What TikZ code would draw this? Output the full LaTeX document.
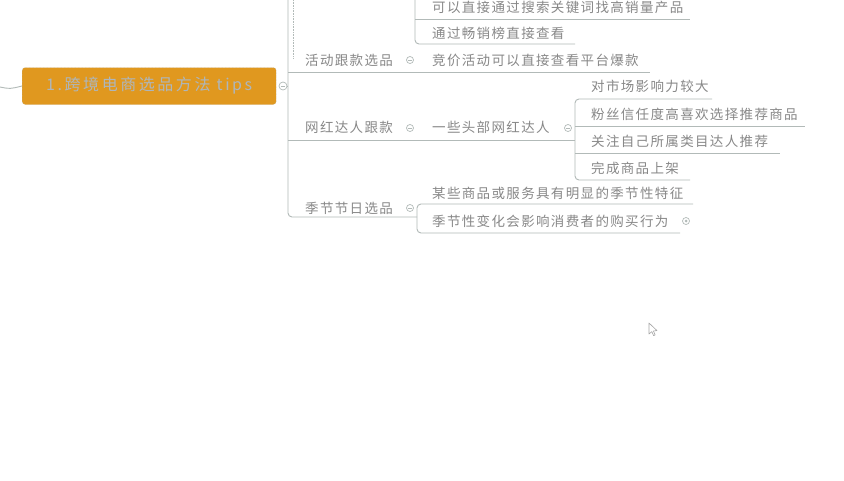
\documentclass[tikz,border=0pt]{standalone}
\usepackage{fontspec}
\newfontfamily\cjk[LetterSpace=10]{Noto Sans CJK SC}
\newfontfamily\cjkroot[LetterSpace=16]{Noto Sans CJK SC}
\definecolor{linec}{HTML}{B2BAB8}
\definecolor{txtc}{HTML}{888888}
\definecolor{rootc}{HTML}{E0981F}
\definecolor{roottxt}{HTML}{AEB6BC}
\begin{document}
\begin{tikzpicture}[x=1pt,y=-1pt,
  conn/.style={draw=linec,line width=0.9pt},
  lbl/.style={anchor=west,inner sep=0pt,text=txtc,font=\cjk\fontsize{13.5}{15}\selectfont},
  marker/.style={circle,draw=linec,line width=0.7pt,minimum size=8pt,inner sep=0pt,fill=white},
]
\useasboundingbox (0,0) rectangle (844,480);
\fill[white] (0,0) rectangle (844,480);

% root
\node[draw=linec,densely dotted,fill=rootc,rounded corners=3pt,minimum width=254pt,minimum height=37pt,anchor=west,inner sep=0pt] (root) at (22,86) {};
\node[inner sep=0pt,text=roottxt,font=\cjkroot\fontsize{16}{18}\selectfont] (roottext) at (root.center) {1.跨境电商选品方法 tips};
\coordinate (lin) at (0,87);
\draw[conn] (lin) .. controls (10,89) .. (root.west);
\node[marker] (mroot) at (283,86) {};
\draw[linec,line width=0.7pt] ([xshift=-2.2pt]mroot.center) -- ([xshift=2.2pt]mroot.center);

% trunk
\coordinate (ttop) at (288,0);
\coordinate (tjoin) at (288,86);
\draw[conn] (mroot.east) -- (tjoin);
\draw[conn,rounded corners=4pt] (ttop) -- (288,217) -- (417,217);
\draw[linec,densely dotted,line width=0.6pt] (293,0) -- (293,58);

% branch labels
\node[lbl] (b1) at (305,60) {活动跟款选品};
\node[lbl] (b2) at (305,127) {网红达人跟款};
\node[lbl] (b3) at (305,208) {季节节日选品};

% children
\node[lbl] (c0) at (432,7) {可以直接通过搜索关键词找高销量产品};
\node[lbl] (c00) at (432,33) {通过畅销榜直接查看};
\node[lbl] (c1) at (432,60) {竞价活动可以直接查看平台爆款};
\node[lbl] (c2) at (432,127) {一些头部网红达人};
\node[lbl] (d1) at (591,86) {对市场影响力较大};
\node[lbl] (d2) at (591,114) {粉丝信任度高喜欢选择推荐商品};
\node[lbl] (d3) at (591,141) {关注自己所属类目达人推荐};
\node[lbl] (d4) at (591,168) {完成商品上架};
\node[lbl] (e1) at (432,193) {某些商品或服务具有明显的季节性特征};
\node[lbl] (e2) at (432,221) {季节性变化会影响消费者的购买行为};

% markers
\foreach \n/\p in {m1/{(410,60)},m2/{(410,128)},m3/{(410,208)},m4/{(568,128)}}{
  \node[marker,minimum size=7pt] (\n) at \p {};
  \draw[linec,line width=0.6pt] ([xshift=-1.8pt]\n.center) -- ([xshift=1.8pt]\n.center);
}
\node[marker,minimum size=7pt] (m5) at (686,221) {};
\fill[linec] (m5.center) circle (1.5pt);

% upper group bracket
\draw[conn,rounded corners=4pt] (415,0) -- (415,44) -- (575,44);
\draw[conn] (415,19) -- (690,19);

% branch 1 underline
\draw[conn] (288,72) -- (650,72);

% branch 2
\draw[conn] (288,140) -- (575,140);
\draw[conn,rounded corners=4pt] (712,99) -- (575,99) -- (575,180) -- (690,180);
\draw[conn] (575,126) -- (805,126);
\draw[conn] (575,153) -- (780,153);

% branch 3
\draw[conn,rounded corners=4pt] (693,204) -- (417,204) -- (417,233) -- (680,233);

% mouse cursor
\draw[draw=gray!70,fill=white,line width=0.6pt,line join=round]
  (649,323) -- (649,334) -- (651.8,331.6) -- (653.6,335.6) -- (655.2,334.9) -- (653.4,331) -- (657,330.6) -- cycle;
\end{tikzpicture}
\end{document}
